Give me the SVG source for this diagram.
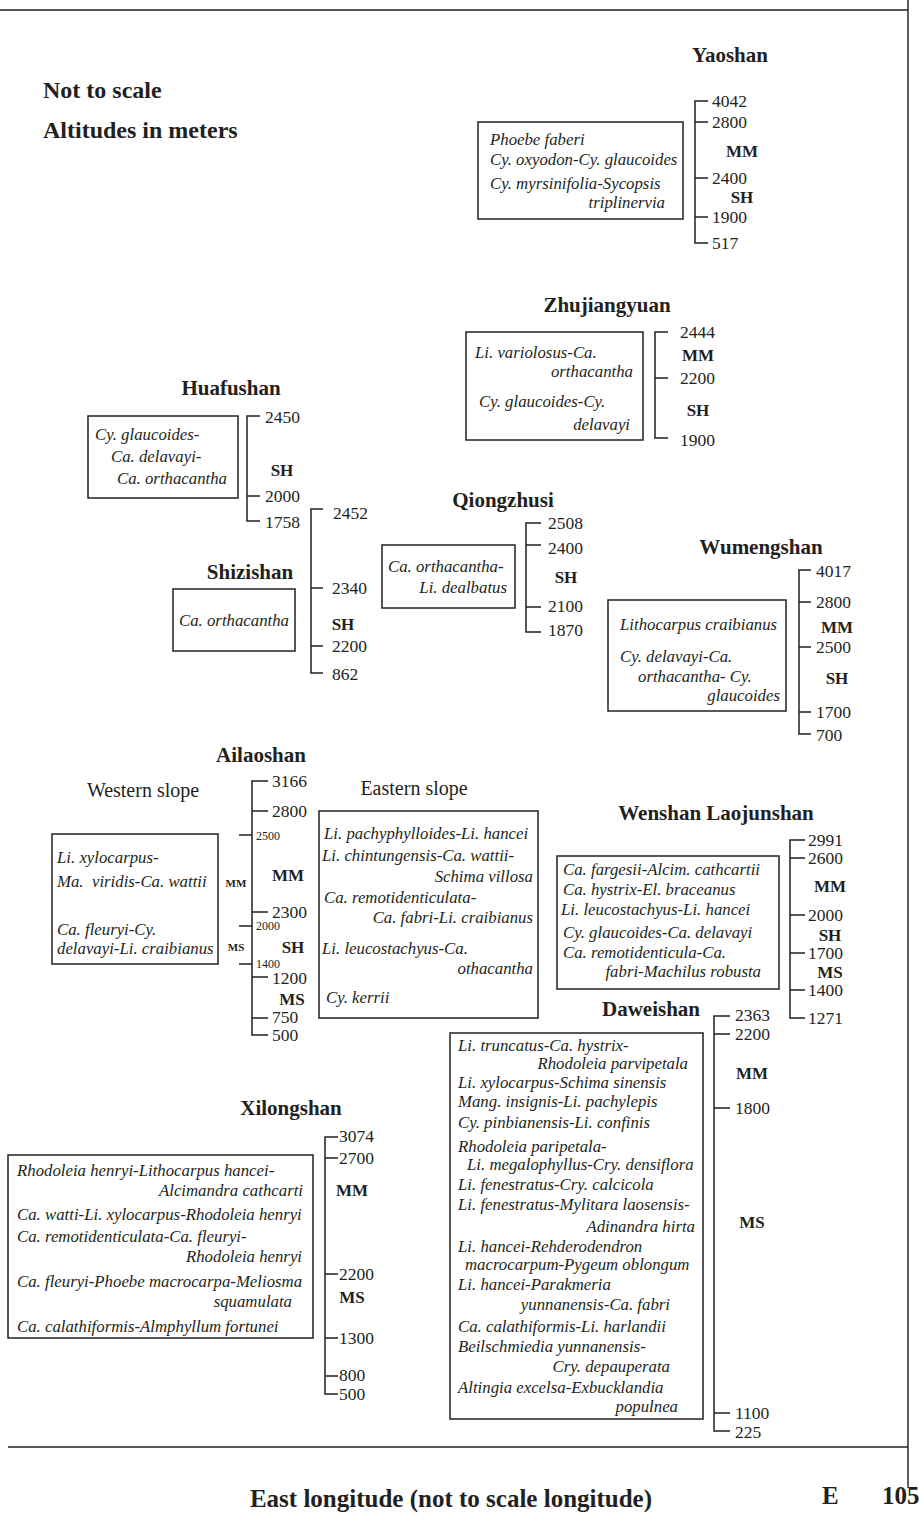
<svg xmlns="http://www.w3.org/2000/svg" width="919" height="1528" viewBox="0 0 919 1528">
<style>
text{font-family:"Liberation Serif","Times New Roman",serif;fill:#231f20}
.ti{font-weight:bold;font-size:21px;text-anchor:middle}
.big{font-weight:bold;font-size:24px}
.n{font-size:17.5px}
.l{font-weight:bold;font-size:17px;text-anchor:middle}
.s{font-style:italic;font-size:16.8px}
.e{text-anchor:end}
.sm{font-size:12px}
.smb{font-weight:bold;font-size:11px;text-anchor:middle}
.slope{font-size:20px;text-anchor:middle}
.bx{fill:#fff;stroke:#231f20;stroke-width:1.5}
.ax{fill:none;stroke:#231f20;stroke-width:1.5}
.fr{fill:none;stroke:#231f20;stroke-width:1.4}
</style>
<rect width="919" height="1528" fill="#fff"/>
<g id="frame">
<path class="fr" d="M0,10 H908 M908,0 V1488 M8,1447 H908"/>
</g>
<g id="legend">
<text class="big" x="43" y="98">Not to scale</text>
<text class="big" x="43" y="138">Altitudes in meters</text>
</g>
<g id="connectors"></g>
<g id="yaoshan">
<text class="ti" x="730" y="62">Yaoshan</text>
<rect class="bx" x="478" y="122" width="205" height="97"/>
<text class="s" x="490" y="145">Phoebe faberi</text>
<text class="s" x="490" y="165">Cy. oxyodon-Cy. glaucoides</text>
<text class="s" x="490" y="189">Cy. myrsinifolia-Sycopsis</text>
<text class="s e" x="665" y="208">triplinervia</text>
<path class="ax" d="M708,101 H695 V243 H708 M695,122 H708 M695,178 H708 M695,217 H708"/>
<text class="n" x="712" y="107">4042</text>
<text class="n" x="712" y="128">2800</text>
<text class="n" x="712" y="184">2400</text>
<text class="n" x="712" y="223">1900</text>
<text class="n" x="712" y="249">517</text>
<text class="l" x="742" y="157">MM</text>
<text class="l" x="742" y="203">SH</text>
</g>
<g id="zhujiangyuan">
<text class="ti" x="607" y="312">Zhujiangyuan</text>
<rect class="bx" x="466" y="332" width="177" height="108"/>
<text class="s" x="475" y="358">Li. variolosus-Ca.</text>
<text class="s e" x="633" y="377">orthacantha</text>
<text class="s" x="479" y="407">Cy. glaucoides-Cy.</text>
<text class="s e" x="630" y="430">delavayi</text>
<path class="ax" d="M668,332 H655 V438 H668 M655,378 H668"/>
<text class="n" x="680" y="338">2444</text>
<text class="n" x="680" y="384">2200</text>
<text class="n" x="680" y="446">1900</text>
<text class="l" x="698" y="361">MM</text>
<text class="l" x="698" y="416">SH</text>
</g>
<g id="huafushan">
<text class="ti" x="231" y="395">Huafushan</text>
<rect class="bx" x="88" y="416" width="150" height="82"/>
<text class="s" x="95" y="440">Cy. glaucoides-</text>
<text class="s" x="111" y="462">Ca. delavayi-</text>
<text class="s" x="117" y="484">Ca. orthacantha</text>
<path class="ax" d="M260,416 H247 V521 H260 M247,496 H260"/>
<text class="n" x="265" y="423">2450</text>
<text class="n" x="265" y="502">2000</text>
<text class="n" x="265" y="528">1758</text>
<text class="l" x="282" y="476">SH</text>
</g>
<g id="shizishan">
<text class="ti" x="250" y="579">Shizishan</text>
<rect class="bx" x="173" y="589" width="122" height="62"/>
<text class="s" x="234" y="626" text-anchor="middle">Ca. orthacantha</text>
<path class="ax" d="M323,509 H311 V673 H323 M311,588 H323 M311,646 H323"/>
<text class="n" x="333" y="519">2452</text>
<text class="n" x="332" y="594">2340</text>
<text class="n" x="332" y="652">2200</text>
<text class="n" x="332" y="680">862</text>
<text class="l" x="343" y="630">SH</text>
</g>
<g id="qiongzhusi">
<text class="ti" x="503" y="507">Qiongzhusi</text>
<rect class="bx" x="382" y="545" width="133" height="63"/>
<text class="s" x="388" y="572">Ca. orthacantha-</text>
<text class="s e" x="507" y="593">Li. dealbatus</text>
<path class="ax" d="M541,523 H526 V632 H541 M526,545 H541 M526,607 H541"/>
<text class="n" x="548" y="529">2508</text>
<text class="n" x="548" y="554">2400</text>
<text class="n" x="548" y="612">2100</text>
<text class="n" x="548" y="636">1870</text>
<text class="l" x="566" y="583">SH</text>
</g>
<g id="wumengshan">
<text class="ti" x="761" y="554">Wumengshan</text>
<rect class="bx" x="608" y="600" width="178" height="111"/>
<text class="s" x="620" y="630">Lithocarpus craibianus</text>
<text class="s" x="620" y="662">Cy. delavayi-Ca.</text>
<text class="s" x="638" y="682">orthacantha- Cy.</text>
<text class="s e" x="780" y="701">glaucoides</text>
<path class="ax" d="M811,570 H799 V734 H811 M799,602 H811 M799,647 H811 M799,712 H811"/>
<text class="n" x="816" y="577">4017</text>
<text class="n" x="816" y="608">2800</text>
<text class="n" x="816" y="653">2500</text>
<text class="n" x="816" y="718">1700</text>
<text class="n" x="816" y="741">700</text>
<text class="l" x="837" y="633">MM</text>
<text class="l" x="837" y="684">SH</text>
</g>
<g id="ailaoshan">
<text class="ti" x="261" y="762">Ailaoshan</text>
<text class="slope" x="143" y="797">Western slope</text>
<text class="slope" x="414" y="795">Eastern slope</text>
<rect class="bx" x="52" y="834" width="166" height="130"/>
<text class="s" x="57" y="863">Li. xylocarpus-</text>
<text class="s" x="57" y="887" xml:space="preserve">Ma.  viridis-Ca. wattii</text>
<text class="s" x="57" y="935">Ca. fleuryi-Cy.</text>
<text class="s" x="57" y="954">delavayi-Li. craibianus</text>
<text class="smb" x="236" y="887">MM</text>
<text class="smb" x="236" y="951">MS</text>
<path class="ax" d="M268,781 H252 V1035 H268 M252,811 H268 M252,912 H268 M252,977 H268 M252,1018 H268 M239,835 H252 M239,926 H252 M239,964 H252"/>
<text class="n" x="272" y="787">3166</text>
<text class="n" x="272" y="817">2800</text>
<text class="n" x="272" y="918">2300</text>
<text class="n" x="272" y="984">1200</text>
<text class="n" x="272" y="1023">750</text>
<text class="n" x="272" y="1041">500</text>
<text class="sm" x="256" y="840">2500</text>
<text class="sm" x="256" y="930">2000</text>
<text class="sm" x="256" y="968">1400</text>
<text class="l" x="288" y="881">MM</text>
<text class="l" x="293" y="953">SH</text>
<text class="l" x="292" y="1005">MS</text>
<rect class="bx" x="319" y="811" width="219" height="207"/>
<text class="s" x="324" y="839">Li. pachyphylloides-Li. hancei</text>
<text class="s" x="322" y="861">Li. chintungensis-Ca. wattii-</text>
<text class="s e" x="533" y="882">Schima villosa</text>
<text class="s" x="324" y="903">Ca. remotidenticulata-</text>
<text class="s e" x="533" y="923">Ca. fabri-Li. craibianus</text>
<text class="s" x="322" y="954">Li. leucostachyus-Ca.</text>
<text class="s e" x="533" y="974">othacantha</text>
<text class="s" x="326" y="1003">Cy. kerrii</text>
</g>
<g id="wenshan-laojunshan">
<text class="ti" x="716" y="820">Wenshan Laojunshan</text>
<rect class="bx" x="557" y="856" width="222" height="133"/>
<text class="s" x="563" y="875">Ca. fargesii-Alcim. cathcartii</text>
<text class="s" x="563" y="895">Ca. hystrix-El. braceanus</text>
<text class="s" x="561" y="915">Li. leucostachyus-Li. hancei</text>
<text class="s" x="563" y="938">Cy. glaucoides-Ca. delavayi</text>
<text class="s" x="563" y="958">Ca. remotidenticula-Ca.</text>
<text class="s e" x="761" y="977">fabri-Machilus robusta</text>
<path class="ax" d="M805,840 H790 V1018 H805 M790,858 H805 M790,915 H805 M790,953 H805 M790,990 H805"/>
<text class="n" x="808" y="846">2991</text>
<text class="n" x="808" y="864">2600</text>
<text class="n" x="808" y="921">2000</text>
<text class="n" x="808" y="959">1700</text>
<text class="n" x="808" y="996">1400</text>
<text class="n" x="808" y="1024">1271</text>
<text class="l" x="830" y="892">MM</text>
<text class="l" x="830" y="941">SH</text>
<text class="l" x="830" y="978">MS</text>
</g>
<g id="daweishan">
<text class="ti" x="651" y="1016">Daweishan</text>
<rect class="bx" x="450" y="1033" width="253" height="386"/>
<text class="s" x="458" y="1051">Li. truncatus-Ca. hystrix-</text>
<text class="s e" x="688" y="1069">Rhodoleia parvipetala</text>
<text class="s" x="458" y="1088">Li. xylocarpus-Schima sinensis</text>
<text class="s" x="458" y="1107">Mang. insignis-Li. pachylepis</text>
<text class="s" x="458" y="1128">Cy. pinbianensis-Li. confinis</text>
<text class="s" x="458" y="1152">Rhodoleia paripetala-</text>
<text class="s" x="467" y="1170">Li. megalophyllus-Cry. densiflora</text>
<text class="s" x="458" y="1190">Li. fenestratus-Cry. calcicola</text>
<text class="s" x="458" y="1210">Li. fenestratus-Mylitara laosensis-</text>
<text class="s e" x="695" y="1232">Adinandra hirta</text>
<text class="s" x="458" y="1252">Li. hancei-Rehderodendron</text>
<text class="s" x="465" y="1270">macrocarpum-Pygeum oblongum</text>
<text class="s" x="458" y="1290">Li. hancei-Parakmeria</text>
<text class="s e" x="670" y="1310">yunnanensis-Ca. fabri</text>
<text class="s" x="458" y="1332">Ca. calathiformis-Li. harlandii</text>
<text class="s" x="458" y="1352">Beilschmiedia yunnanensis-</text>
<text class="s e" x="670" y="1372">Cry. depauperata</text>
<text class="s" x="458" y="1393">Altingia excelsa-Exbucklandia</text>
<text class="s e" x="678" y="1412">populnea</text>
<path class="ax" d="M730,1016 H714 V1431 H730 M714,1034 H730 M714,1108 H730 M714,1413 H730"/>
<text class="n" x="735" y="1021">2363</text>
<text class="n" x="735" y="1040">2200</text>
<text class="n" x="735" y="1114">1800</text>
<text class="n" x="735" y="1419">1100</text>
<text class="n" x="735" y="1438">225</text>
<text class="l" x="752" y="1079">MM</text>
<text class="l" x="752" y="1228">MS</text>
</g>
<g id="xilongshan">
<text class="ti" x="291" y="1115">Xilongshan</text>
<rect class="bx" x="8" y="1155" width="305" height="183"/>
<text class="s" x="17" y="1176">Rhodoleia henryi-Lithocarpus hancei-</text>
<text class="s e" x="303" y="1196">Alcimandra cathcarti</text>
<text class="s" x="17" y="1220">Ca. watti-Li. xylocarpus-Rhodoleia henryi</text>
<text class="s" x="17" y="1242">Ca. remotidenticulata-Ca. fleuryi-</text>
<text class="s e" x="302" y="1262">Rhodoleia henryi</text>
<text class="s" x="17" y="1287">Ca. fleuryi-Phoebe macrocarpa-Meliosma</text>
<text class="s e" x="292" y="1307">squamulata</text>
<text class="s" x="17" y="1332">Ca. calathiformis-Almphyllum fortunei</text>
<path class="ax" d="M338,1137 H325 V1394 H338 M325,1158 H338 M325,1274 H338 M325,1338 H338 M325,1376 H338"/>
<text class="n" x="339" y="1142">3074</text>
<text class="n" x="339" y="1164">2700</text>
<text class="n" x="339" y="1280">2200</text>
<text class="n" x="339" y="1344">1300</text>
<text class="n" x="339" y="1381">800</text>
<text class="n" x="339" y="1400">500</text>
<text class="l" x="352" y="1196">MM</text>
<text class="l" x="352" y="1303">MS</text>
</g>
<g id="axis-labels">
<text class="big" x="451" y="1507" text-anchor="middle" style="font-size:25px">East longitude (not to scale longitude)</text>
<text class="big" x="822" y="1504" style="font-size:25px">E</text>
<text class="big" x="882" y="1504" style="font-size:25px">105</text>
</g>
</svg>
